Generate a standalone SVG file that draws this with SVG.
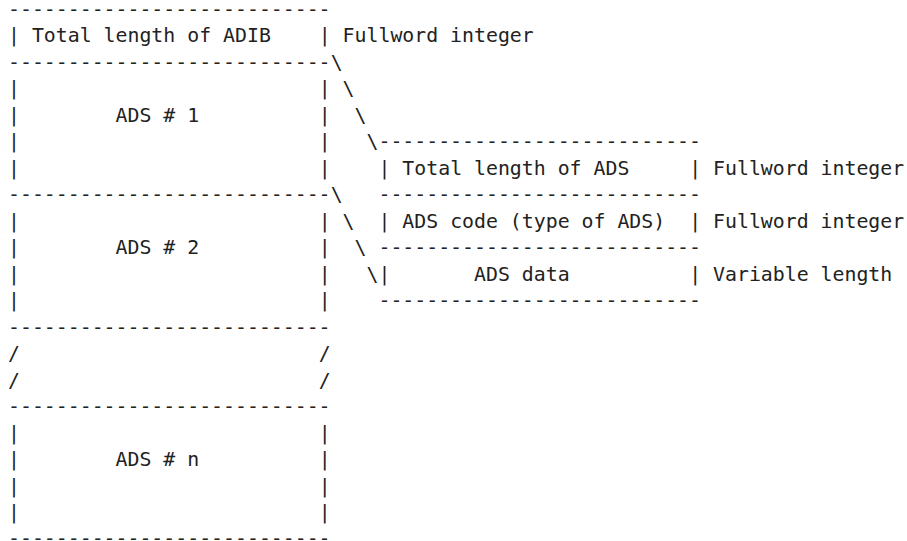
<svg xmlns="http://www.w3.org/2000/svg" width="907" height="541" viewBox="0 0 907 541">
  <style>
    text { font-family: "DejaVu Sans Mono", "Liberation Mono", monospace; font-size: 19.85px; fill: #222222; }
  </style>
  <rect x="0" y="0" width="907" height="541" fill="#ffffff"/>

  <!-- ADIB header block -->
  <g id="adib-header">
    <text x="8" y="15.5">---------------------------</text>
    <text x="8" y="42">|</text>
    <text x="31.9" y="42">Total length of ADIB</text>
    <text x="318.7" y="42">|</text>
    <text x="8" y="68.5">---------------------------</text>
  </g>

  <!-- ADS # 1 -->
  <g id="ads-1">
    <text x="8" y="95">|</text><text x="318.7" y="95">|</text>
    <text x="8" y="121.5">|</text><text x="115.55" y="121.5">ADS # 1</text><text x="318.7" y="121.5">|</text>
    <text x="8" y="148">|</text><text x="318.7" y="148">|</text>
    <text x="8" y="174.5">|</text><text x="318.7" y="174.5">|</text>
    <text x="8" y="201">---------------------------</text>
  </g>

  <!-- ADS # 2 -->
  <g id="ads-2">
    <text x="8" y="227.5">|</text><text x="318.7" y="227.5">|</text>
    <text x="8" y="254">|</text><text x="115.55" y="254">ADS # 2</text><text x="318.7" y="254">|</text>
    <text x="8" y="280.5">|</text><text x="318.7" y="280.5">|</text>
    <text x="8" y="307">|</text><text x="318.7" y="307">|</text>
    <text x="8" y="333.5">---------------------------</text>
  </g>

  <!-- omitted ADS entries -->
  <g id="ads-gap">
    <text x="8" y="360">/</text><text x="318.7" y="360">/</text>
    <text x="8" y="386.5">/</text><text x="318.7" y="386.5">/</text>
  </g>

  <!-- ADS # n -->
  <g id="ads-n">
    <text x="8" y="413">---------------------------</text>
    <text x="8" y="439.5">|</text><text x="318.7" y="439.5">|</text>
    <text x="8" y="466">|</text><text x="115.55" y="466">ADS # n</text><text x="318.7" y="466">|</text>
    <text x="8" y="492.5">|</text><text x="318.7" y="492.5">|</text>
    <text x="8" y="519">|</text><text x="318.7" y="519">|</text>
    <text x="8" y="544.5">---------------------------</text>
  </g>

  <!-- ADS detail: total length -->
  <g id="ads-total-length">
    <text x="378.45" y="148">---------------------------</text>
    <text x="378.45" y="174.5">|</text>
    <text x="402.35" y="174.5">Total length of ADS</text>
    <text x="689.15" y="174.5">|</text>
    <text x="378.45" y="201">---------------------------</text>
  </g>

  <!-- ADS detail: code -->
  <g id="ads-code">
    <text x="378.45" y="227.5">|</text>
    <text x="402.35" y="227.5">ADS code (type of ADS)</text>
    <text x="689.15" y="227.5">|</text>
    <text x="378.45" y="254">---------------------------</text>
  </g>

  <!-- ADS detail: data -->
  <g id="ads-data">
    <text x="378.45" y="280.5">|</text>
    <text x="474.05" y="280.5">ADS data</text>
    <text x="689.15" y="280.5">|</text>
    <text x="378.45" y="307">---------------------------</text>
  </g>

  <!-- annotations -->
  <g id="annotations">
    <text x="342.6" y="42">Fullword integer</text>
    <text x="713.05" y="174.5">Fullword integer</text>
    <text x="713.05" y="227.5">Fullword integer</text>
    <text x="713.05" y="280.5">Variable length</text>
  </g>

  <!-- connectors (expansion lines) -->
  <g id="connectors">
    <text x="330.65" y="68.5">\</text>
    <text x="342.6" y="95">\</text>
    <text x="354.55" y="121.5">\</text>
    <text x="366.5" y="148">\</text>
    <text x="330.65" y="201">\</text>
    <text x="342.6" y="227.5">\</text>
    <text x="354.55" y="254">\</text>
    <text x="366.5" y="280.5">\</text>
  </g>
</svg>
